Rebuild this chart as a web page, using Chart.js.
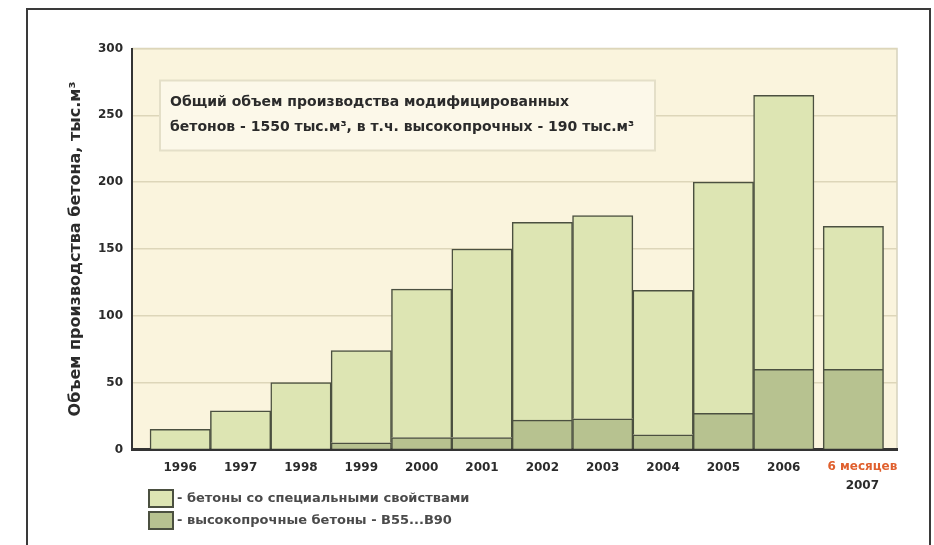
<!DOCTYPE html>
<html lang="ru">
<head>
<meta charset="utf-8">
<script src="https://cdn.jsdelivr.net/npm/chart.js@4.4.1/dist/chart.umd.min.js"></script>
<style>
  html, body { margin: 0; padding: 0; background: #fff; }
  #wrap { width: 934px; height: 545px; }
</style>
</head>
<body>
<div id="wrap"><canvas id="chart"></canvas></div>
<script>
// production of modified concrete, thousand m3
const years = ['1996', '1997', '1998', '1999', '2000', '2001', '2002', '2003', '2004', '2005', '2006', '2007'];
const special = [15, 29, 50, 69, 111, 141, 148, 152, 108, 173, 205, 107];
const highStrength = [0, 0, 0, 5, 9, 9, 22, 23, 11, 27, 60, 60];
const yTicks = [0, 50, 100, 150, 200, 250, 300];

const yTitle = 'Объем производства бетона, тыс.м³';
const halfYearNote = '6 месяцев';
const noteLines = [
    'Общий объем производства модифицированных',
    'бетонов - 1550 тыс.м³, в т.ч. высокопрочных - 190 тыс.м³'
];
const legendLabels = [
    '- бетоны со специальными свойствами',
    '- высокопрочные бетоны - В55...В90'
];

const lightFill = '#dde5b3';
const darkFill = '#b7c290';
const edge = '#4b5040';
const textColor = '#2b2b2b';
const font = 'DejaVu Sans';

// the half-year column stands a little apart from the full years
const gap = 0.153;
const xPos = years.map((y, i) => i === years.length - 1 ? i + gap : i);

const points = arr => arr.map((v, i) => ({x: xPos[i], y: v}));

const decor = {
    id: 'decor',
    beforeDraw(chart) {
        const {ctx, chartArea: a} = chart;
        ctx.save();
        ctx.fillStyle = '#fff';
        ctx.fillRect(0, 0, chart.width, chart.height);
        // outer frame
        ctx.strokeStyle = '#3a3a3a';
        ctx.lineWidth = 2;
        ctx.beginPath();
        ctx.moveTo(27, chart.height + 2);
        ctx.lineTo(27, 9);
        ctx.lineTo(930, 9);
        ctx.lineTo(930, chart.height + 2);
        ctx.stroke();
        // plot background
        ctx.fillStyle = '#faf4dd';
        ctx.fillRect(a.left, a.top, a.right - a.left, a.bottom - a.top);
        ctx.strokeStyle = '#d6d2bd';
        ctx.lineWidth = 1.5;
        ctx.beginPath();
        ctx.moveTo(a.left, a.top);
        ctx.lineTo(a.right, a.top);
        ctx.lineTo(a.right, a.bottom);
        ctx.stroke();
        ctx.restore();
    },
    beforeDatasetsDraw(chart) {
        const {ctx, chartArea: a} = chart;
        const bx = a.left + 28, by = a.top + 32, bw = 495, bh = 70;
        ctx.save();
        ctx.fillStyle = '#fcf8e9';
        ctx.fillRect(bx, by, bw, bh);
        ctx.strokeStyle = '#e4dfc8';
        ctx.lineWidth = 2;
        ctx.strokeRect(bx, by, bw, bh);
        ctx.fillStyle = textColor;
        ctx.font = 'bold 14px "' + font + '"';
        ctx.textBaseline = 'middle';
        ctx.textAlign = 'left';
        noteLines.forEach((line, i) => ctx.fillText(line, bx + 10, by + 22 + i * 25));
        ctx.restore();
    },
    afterDraw(chart) {
        const {ctx, scales: {x}} = chart;
        ctx.save();
        ctx.font = 'bold 12px "' + font + '"';
        ctx.textAlign = 'center';
        ctx.textBaseline = 'middle';
        years.forEach((label, i) => {
            const px = x.getPixelForValue(xPos[i]);
            if (i === years.length - 1) {
                ctx.fillStyle = '#e0602e';
                ctx.fillText(halfYearNote, px + 9, 467);
                ctx.fillStyle = textColor;
                ctx.fillText(label, px + 9, 486);
            } else {
                ctx.fillStyle = textColor;
                ctx.fillText(label, px, 468);
            }
        });
        // legend
        const fills = [lightFill, darkFill];
        ctx.font = 'bold 13px "' + font + '"';
        ctx.textAlign = 'left';
        ctx.lineWidth = 2;
        legendLabels.forEach((label, i) => {
            const top = 490 + i * 22;
            ctx.fillStyle = fills[i];
            ctx.fillRect(149, top, 24, 17);
            ctx.strokeStyle = edge;
            ctx.strokeRect(149, top, 24, 17);
            ctx.fillStyle = '#4a4a4a';
            ctx.fillText(label, 177, top + 9);
        });
        ctx.restore();
    }
};

new Chart(document.getElementById('chart'), {
    type: 'bar',
    data: {
        datasets: [
            {
                label: legendLabels[1],
                data: points(highStrength),
                backgroundColor: darkFill,
                borderColor: edge,
                borderWidth: 1.5
            },
            {
                label: legendLabels[0],
                data: points(special),
                backgroundColor: lightFill,
                borderColor: edge,
                borderWidth: 1.5
            }
        ]
    },
    options: {
        responsive: true,
        maintainAspectRatio: false,
        animation: false,
        layout: {
            padding: {left: 0, right: 37, top: 48.5, bottom: 0}
        },
        datasets: {
            bar: {categoryPercentage: 1, barPercentage: 1}
        },
        scales: {
            x: {
                type: 'linear',
                stacked: true,
                offset: false,
                min: -0.799,
                max: 11.876,
                afterBuildTicks: s => { s.ticks = xPos.map(v => ({value: v})); },
                afterFit: s => { s.height = 95.5; },
                ticks: {display: false},
                grid: {display: false, drawTicks: false},
                border: {display: true, color: '#333', width: 3}
            },
            y: {
                stacked: true,
                min: 0,
                max: 300,
                afterBuildTicks: s => { s.ticks = yTicks.map(v => ({value: v})); },
                afterFit: s => { s.width = 132; },
                ticks: {
                    color: textColor,
                    padding: 9,
                    font: {family: font, size: 12, weight: 'bold'}
                },
                grid: {color: '#ddd6b9', lineWidth: 1.5, drawTicks: false},
                border: {display: true, color: '#333', width: 2},
                title: {
                    display: true,
                    text: yTitle,
                    color: textColor,
                    padding: {top: 66, bottom: 0},
                    font: {family: font, size: 16, weight: 'bold'}
                }
            }
        },
        plugins: {
            legend: {display: false},
            tooltip: {enabled: false}
        }
    },
    plugins: [decor]
});
</script>
</body>
</html>
